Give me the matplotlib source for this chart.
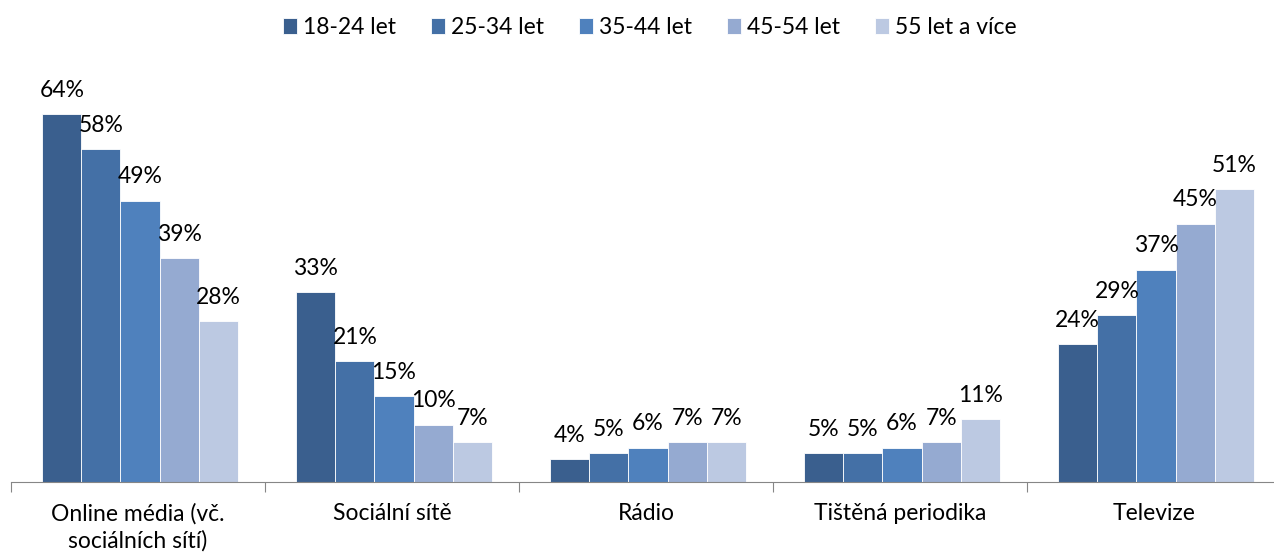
import numpy as np
import matplotlib.pyplot as plt

plt.rcParams['font.family'] = ['Lato', 'DejaVu Sans']

kategorie = ['Online média (vč.\nsociálních sítí)', 'Sociální sítě', 'Rádio',
             'Tištěná periodika', 'Televize']
skupiny = ['18-24 let', '25-34 let', '35-44 let', '45-54 let', '55 let a více']
hodnoty = [
    [64, 33, 4, 5, 24],
    [58, 21, 5, 5, 29],
    [49, 15, 6, 6, 37],
    [39, 10, 7, 7, 45],
    [28, 7, 7, 11, 51],
]
barvy = ['#3A5F8E', '#4470A6', '#4F81BD', '#95AAD1', '#BCC9E2']

fig = plt.figure(figsize=(12.74, 5.59), dpi=100)
# osa pokracuje kousek za pravy okraj obrazku
ax = fig.add_axes([11 / 1274, 77 / 559, 1270 / 1274, 402 / 559])

x = np.arange(len(kategorie))
sirka = 0.154
for i, (nazev, vals) in enumerate(zip(skupiny, hodnoty)):
    pos = x + (i - 2) * sirka + 0.008
    ax.bar(pos, vals, sirka, color=barvy[i], edgecolor='white', linewidth=0.6, label=nazev)
    for p, v in zip(pos, vals):
        ax.text(p, v + 2.3, f'{v}%', ha='center', va='bottom', fontsize=16.5, color='black')

ax.set_xlim(-0.5, len(kategorie) - 0.5)
ax.set_ylim(0, 70)
ax.set_yticks([])
for s in ['top', 'right', 'left']:
    ax.spines[s].set_visible(False)
ax.spines['bottom'].set_color('#868686')

ax.set_xticks(np.arange(len(kategorie) + 1) - 0.5)
ax.set_xticklabels([])
ax.tick_params(axis='x', length=7, color='#868686')
ax.set_xticks(x, minor=True)
ax.set_xticklabels(kategorie, minor=True, fontsize=16.5, linespacing=1.3)
ax.tick_params(axis='x', which='minor', length=0, pad=15)

fig.legend(loc='upper center', bbox_to_anchor=(0.51, 1.007), ncol=5, frameon=False,
           fontsize=16.5, handlelength=0.6, handleheight=0.7, handletextpad=0.25,
           columnspacing=1.55)

fig.savefig('out.png', dpi=100)
